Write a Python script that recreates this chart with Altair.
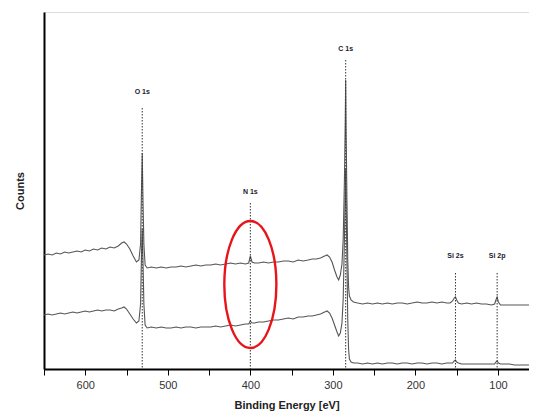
import altair as alt
import pandas as pd

# Binding energy grid (eV), shared by both spectra
energy_ev = [
    650, 645, 640, 635, 630, 625, 620, 615, 610, 605, 600, 595, 590, 585, 580, 575, 570, 565, 560,
    556, 553, 550, 546, 542, 538, 535, 533, 532, 531, 530, 529, 527.5, 525,
    520, 514, 508, 502, 496, 490, 484, 478, 472, 466, 460, 454, 448, 442, 436, 430, 424, 418, 412, 406, 402, 400,
    398, 395, 390, 384, 378, 372, 366, 360, 354, 348, 342, 336, 330, 325,
    320, 315, 310, 307, 304, 301, 298, 295, 293, 291, 289, 287.5, 286, 285, 284.5, 284, 283, 282, 281, 280, 278, 275,
    270, 264, 258, 252, 246, 240, 234, 228, 222, 216, 210, 204, 198, 192, 186, 180, 174, 168, 162, 158,
    155, 153, 151.5, 150, 148, 144, 138, 132, 126, 120, 114, 108, 104, 102.5, 101, 99.5, 97, 92, 86, 80,
    74, 68, 62, 56, 54,
]

upper_counts = [
    114, 115, 114, 116, 115, 117, 116, 117, 118, 117, 119, 118, 120, 119, 121, 120, 122, 121, 123,
    126, 127, 125, 120, 113, 107, 109, 125, 175, 216, 165, 125, 104, 101,
    102, 101, 102, 101, 102, 102, 103, 102, 103, 104, 103, 104, 104, 105, 104, 105, 106, 105, 106, 105, 106, 113,
    107, 106, 106, 107, 106, 107, 107, 108, 108, 107, 109, 108, 109, 110,
    110, 111, 113, 114, 112, 107, 99, 92, 89, 94, 105, 130, 190, 250, 289, 240, 170, 110, 82, 73, 69, 67,
    66, 65, 66, 65, 66, 65, 66, 65, 66, 66, 65, 66, 67, 66, 66, 67, 66, 67, 66, 66,
    68, 71, 72, 69, 66, 65, 66, 65, 66, 65, 65, 64, 65, 69, 72, 67, 64, 64, 64, 64,
    64, 64, 64, 64, 64,
]

lower_counts = [
    54, 55, 54, 55, 56, 55, 56, 57, 56, 57, 58, 57, 58, 59, 58, 59, 59, 58, 60,
    61, 62, 60, 55, 50, 46, 48, 65, 110, 140, 105, 65, 44, 41,
    42, 41, 42, 41, 41, 42, 41, 42, 42, 41, 42, 42, 42, 43, 42, 43, 44, 43, 44, 45, 45, 48,
    46, 46, 47, 47, 48, 49, 49, 50, 51, 50, 52, 52, 53, 53,
    54, 55, 57, 58, 56, 51, 44, 37, 33, 36, 46, 70, 130, 180, 200, 170, 110, 50, 20, 10, 7, 6,
    6, 5, 6, 5, 6, 5, 6, 6, 5, 6, 6, 5, 6, 6, 5, 6, 6, 5, 6, 6,
    6, 8, 9, 7, 6, 5, 5, 5, 5, 5, 5, 5, 5, 7, 8, 6, 5, 5, 5, 4,
    4, 4, 4, 4, 4,
]

# Peak annotations
peak_names = ["O 1s", "N 1s", "C 1s", "Si 2s", "Si 2p"]
peak_energy = [531, 400, 284.5, 151.5, 101]
peak_line_top = [261, 166, 309, 96, 96]
peak_label_y = [277, 177, 320, 113, 113]

# Highlight ellipse around N 1s
ellipse_center_ev = [400]
ellipse_center_counts = [84.5]

x_ticks = [650, 600, 550, 500, 450, 400, 350, 300, 250, 200, 150, 100]

spectra = pd.DataFrame({
    "energy": energy_ev * 2,
    "counts": upper_counts + lower_counts,
    "series": ["upper"] * len(energy_ev) + ["lower"] * len(energy_ev),
})
peaks = pd.DataFrame({
    "name": peak_names, "energy": peak_energy,
    "top": peak_line_top, "label_y": peak_label_y,
})
ellipse = pd.DataFrame({"energy": ellipse_center_ev, "counts": ellipse_center_counts})

x_scale = alt.Scale(domain=[650, 62.4], nice=False, zero=False)
y_scale = alt.Scale(domain=[0, 357], nice=False, zero=False)

x_axis = alt.Axis(
    title="Binding Energy [eV]", values=x_ticks,
    labelExpr="datum.value % 100 == 0 ? datum.label : ''",
    grid=False, domainColor="black", domainWidth=2, tickColor="black", tickWidth=1,
    tickSize=6, labelFontSize=11, labelColor="#333333", labelPadding=4,
    titleFontSize=11, titleFontWeight="bold", titleColor="#222222", titlePadding=9,
    labelFont="Liberation Sans", titleFont="Liberation Sans",
)
y_axis = alt.Axis(
    title="Counts", labels=False, ticks=False, grid=False,
    domainColor="black", domainWidth=2, titleFontSize=11, titleFontWeight="bold",
    titleColor="#222222", titlePadding=19, titleFont="Liberation Sans",
)

lines = alt.Chart(spectra).mark_line(color="#555555", strokeWidth=1.1).encode(
    x=alt.X("energy:Q", scale=x_scale, axis=x_axis),
    y=alt.Y("counts:Q", scale=y_scale, axis=y_axis),
    detail="series:N",
    order="idx:Q",
).transform_window(idx="row_number()", groupby=["series"])

rules = alt.Chart(peaks).mark_rule(color="#333333", strokeWidth=1, strokeDash=[1.5, 1.5]).encode(
    x=alt.X("energy:Q", scale=x_scale),
    y=alt.Y("top:Q", scale=y_scale),
    y2=alt.datum(0),
)

labels = alt.Chart(peaks).mark_text(
    fontSize=7, font="Liberation Sans", color="#1a1a2e", fontWeight="bold", baseline="middle"
).encode(
    x=alt.X("energy:Q", scale=x_scale),
    y=alt.Y("label_y:Q", scale=y_scale),
    text="name:N",
)

ring = alt.Chart(ellipse).mark_point(
    shape="M -0.41,0 A 0.41,1 0 1,0 0.41,0 A 0.41,1 0 1,0 -0.41,0 Z",
    size=127 * 127, filled=False, stroke="#e8141a", strokeWidth=2.4, opacity=1,
).encode(
    x=alt.X("energy:Q", scale=x_scale),
    y=alt.Y("counts:Q", scale=y_scale),
)

chart = alt.layer(lines, rules, labels, ring).properties(
    width=485, height=357,
    autosize=alt.AutoSizeParams(type="none"),
    padding={"left": 36, "top": 4, "right": 0, "bottom": 45},
).configure_view(stroke=None).configure(background="white")

chart.save("out.html", embed_options={"renderer": "svg", "actions": False})
